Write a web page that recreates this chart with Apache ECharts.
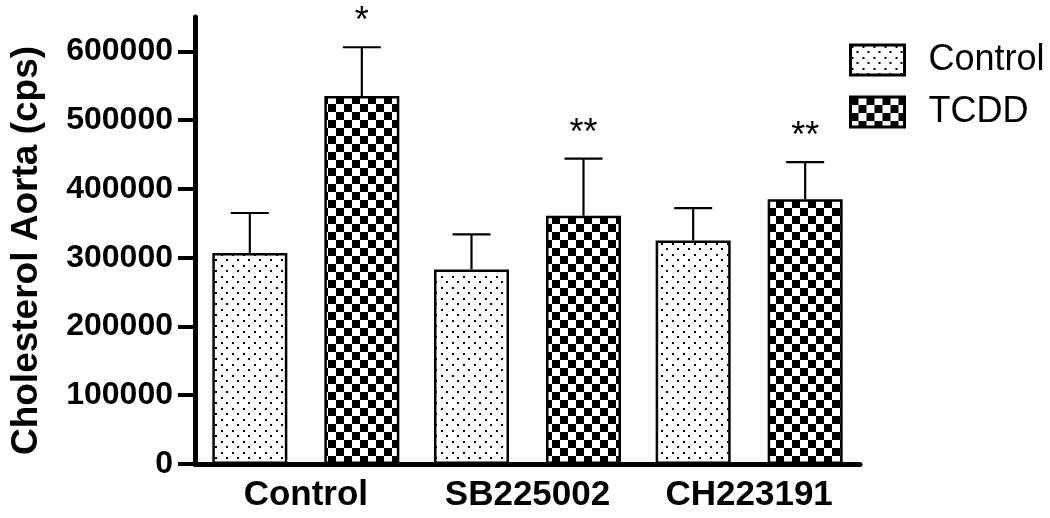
<!DOCTYPE html>
<html>
<head>
<meta charset="utf-8">
<script src="https://cdn.jsdelivr.net/npm/echarts@6/dist/echarts.min.js"></script>
<style>
  html, body { margin: 0; padding: 0; background: #fff; }
  #chart { width: 1050px; height: 518px; }
</style>
</head>
<body>
<div id="chart"></div>
<script>
// data
const categories = ['Control', 'SB225002', 'CH223191']
const controlMeans = [307000, 283000, 325000]
const controlErr = [58000, 51000, 47000]
const tcddMeans = [535000, 361000, 385000]
const tcddErr = [71000, 83000, 54000]
const controlMarks = ['', '', '']
const tcddMarks = ['*', '**', '**']
const yTicks = [0, 100000, 200000, 300000, 400000, 500000, 600000]

const FONT = '"Liberation Sans", Arial, Helvetica, sans-serif'
const BAR_W = 75
const BAR_GAP = 37
const SHIFT = (BAR_W + BAR_GAP) / 2

// fill patterns
const makeDots = () => {
  const c = document.createElement('canvas')
  c.width = 11; c.height = 11
  const g = c.getContext('2d')
  g.fillStyle = '#fff'
  g.fillRect(0, 0, 11, 11)
  g.fillStyle = '#000'
  g.fillRect(1, 1, 2, 2)
  g.fillRect(6, 6, 2, 2)
  return c
}
const makeChecker = () => {
  const c = document.createElement('canvas')
  c.width = 16; c.height = 16
  const g = c.getContext('2d')
  g.fillStyle = '#fff'
  g.fillRect(0, 0, 16, 16)
  g.fillStyle = '#000'
  g.fillRect(0, 0, 8, 8)
  g.fillRect(8, 8, 8, 8)
  return c
}
const dots = { image: makeDots(), repeat: 'repeat' }
const checker = { image: makeChecker(), repeat: 'repeat' }

// upper error bar + significance stars
const errorSeries = (means, errs, marks, side) => ({
  type: 'custom',
  z: 5,
  silent: true,
  data: means.map((m, i) => [i, m, errs[i]]),
  renderItem: (params, api) => {
    const base = api.coord([api.value(0), api.value(1)])
    const top = api.coord([api.value(0), api.value(1) + api.value(2)])
    const x = base[0] + side * SHIFT
    const st = { stroke: '#000', lineWidth: 2.2 }
    return {
      type: 'group',
      children: [
        { type: 'line', shape: { x1: x, y1: base[1], x2: x, y2: top[1] }, style: st },
        { type: 'line', shape: { x1: x - 19, y1: top[1], x2: x + 19, y2: top[1] }, style: st },
        {
          type: 'text',
          style: {
            x: x, y: top[1] - 25,
            text: marks[params.dataIndex],
            fill: '#000',
            font: '36px ' + FONT,
            align: 'center',
            verticalAlign: 'middle'
          }
        }
      ]
    }
  }
})

const chart = echarts.init(document.getElementById('chart'))

chart.setOption({
  animation: false,
  backgroundColor: '#fff',
  textStyle: { fontFamily: FONT, color: '#000' },
  grid: { left: 190, right: 190, top: 17, bottom: 54 },
  legend: {
    orient: 'vertical',
    left: 849,
    top: 42,
    padding: 0,
    icon: 'rect',
    itemWidth: 54,
    itemHeight: 30,
    itemGap: 16,
    data: ['Control', 'TCDD'],
    itemStyle: { borderColor: '#000', borderWidth: 3 },
    textStyle: { fontSize: 36, color: '#000', padding: [0, 0, 0, 19] }
  },
  xAxis: {
    type: 'category',
    data: categories,
    axisLine: { lineStyle: { color: '#000', width: 5 } },
    axisTick: { show: false },
    axisLabel: { fontSize: 35, fontWeight: 'bold', color: '#000', margin: 14 }
  },
  yAxis: {
    type: 'value',
    min: 0,
    max: 650000,
    interval: 100000,
    name: 'Cholesterol Aorta (cps)',
    nameLocation: 'middle',
    nameGap: 150,
    nameTextStyle: { fontSize: 37, fontWeight: 'bold', color: '#000', padding: [0, 20, 0, 0] },
    axisLine: { show: true, lineStyle: { color: '#000', width: 5 } },
    axisTick: { show: true, length: 17, customValues: yTicks, lineStyle: { color: '#000', width: 4 } },
    axisLabel: {
      customValues: yTicks,
      fontSize: 32, fontWeight: 'bold', color: '#000', margin: 22,
      formatter: v => String(v)
    },
    splitLine: { show: false }
  },
  series: [
    {
      name: 'Control',
      type: 'bar',
      data: controlMeans,
      barWidth: BAR_W,
      barGap: (BAR_GAP / BAR_W * 100) + '%',
      itemStyle: { color: dots, borderColor: '#000', borderWidth: 2.5 }
    },
    {
      name: 'TCDD',
      type: 'bar',
      data: tcddMeans,
      barWidth: BAR_W,
      itemStyle: { color: checker, borderColor: '#000', borderWidth: 2.5 }
    },
    errorSeries(controlMeans, controlErr, controlMarks, -1),
    errorSeries(tcddMeans, tcddErr, tcddMarks, 1)
  ]
})
</script>
</body>
</html>
